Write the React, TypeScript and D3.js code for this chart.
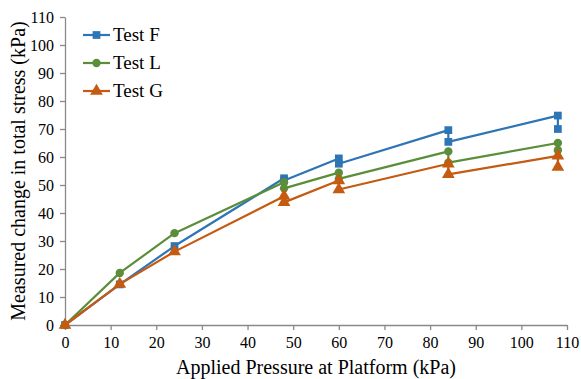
import React from "react";
import * as d3 from "d3";

// applied pressure (kPa) – repeated x means two readings at that load
const pressure = [0, 12, 24, 48, 48, 60, 60, 84, 84, 108, 108];
const testF = [0, 14.5, 28.2, 52.4, 51.6, 59.5, 57.6, 69.6, 65.4, 74.8, 70.0];
const testL = [0, 18.6, 32.8, 51.0, 48.8, 54.4, 52.2, 62.0, 58.0, 65.0, 62.4];
const testG = [0, 14.6, 26.2, 46.0, 43.8, 51.6, 48.4, 57.6, 53.8, 60.4, 56.4];

const xTicks = [0, 10, 20, 30, 40, 50, 60, 70, 80, 90, 100, 110];
const yTicks = [0, 10, 20, 30, 40, 50, 60, 70, 80, 90, 100, 110];

const series = [
    { name: "Test F", values: testF, color: "#2E75B6", shape: "square" },
    { name: "Test L", values: testL, color: "#5B8E3A", shape: "circle" },
    { name: "Test G", values: testG, color: "#C55A11", shape: "triangle" },
];

const font = "'Liberation Serif', 'Times New Roman', serif";

export default function App() {
    const ref = React.useRef<SVGSVGElement>(null);

    React.useEffect(() => {
        const width = 581;
        const height = 379;
        const margin = { top: 17, right: 14, bottom: 54, left: 65 };

        const svg = d3.select(ref.current);
        svg.selectAll("*").remove();

        const x = d3
            .scaleLinear()
            .domain([0, 110])
            .range([margin.left, width - margin.right]);
        const y = d3
            .scaleLinear()
            .domain([0, 110])
            .range([height - margin.bottom, margin.top]);

        const axisColor = "#898989";

        // x axis
        const xAxis = svg
            .append("g")
            .attr("transform", `translate(0,${y(0)})`)
            .call(d3.axisBottom(x).tickValues(xTicks).tickSizeInner(5).tickSizeOuter(0).tickPadding(7));
        xAxis.select(".domain").attr("stroke", axisColor).attr("stroke-width", 1.3);
        xAxis.selectAll(".tick line").attr("stroke", axisColor).attr("stroke-width", 1.3);
        xAxis
            .selectAll(".tick text")
            .attr("font-family", font)
            .attr("font-size", 16)
            .attr("fill", "#000");

        // y axis
        const yAxis = svg
            .append("g")
            .attr("transform", `translate(${x(0)},0)`)
            .call(d3.axisLeft(y).tickValues(yTicks).tickSizeInner(5).tickSizeOuter(0).tickPadding(6));
        yAxis.select(".domain").attr("stroke", axisColor).attr("stroke-width", 1.3);
        yAxis.selectAll(".tick line").attr("stroke", axisColor).attr("stroke-width", 1.3);
        yAxis
            .selectAll(".tick text")
            .attr("font-family", font)
            .attr("font-size", 16)
            .attr("fill", "#000");

        // titles
        svg.append("text")
            .attr("x", (x(0) + x(110)) / 2)
            .attr("y", 374)
            .attr("text-anchor", "middle")
            .attr("font-family", font)
            .attr("font-size", 20)
            .text("Applied Pressure at Platform (kPa)");

        svg.append("text")
            .attr("transform", `translate(25,${(y(0) + y(110)) / 2}) rotate(-90)`)
            .attr("text-anchor", "middle")
            .attr("font-family", font)
            .attr("font-size", 20)
            .text("Measured change in total stress (kPa)");

        const symbolFor = (shape: string) =>
            shape === "square"
                ? d3.symbol().type(d3.symbolSquare).size(60)
                : shape === "circle"
                ? d3.symbol().type(d3.symbolCircle).size(55)
                : d3.symbol().type(d3.symbolTriangle).size(70);

        const line = d3
            .line<number>()
            .x((d, i) => x(pressure[i]))
            .y((d) => y(d));

        series.forEach((s) => {
            const g = svg.append("g");
            g.append("path")
                .datum(s.values)
                .attr("fill", "none")
                .attr("stroke", s.color)
                .attr("stroke-width", 2.2)
                .attr("stroke-linejoin", "round")
                .attr("d", line);
            g.selectAll("path.pt")
                .data(s.values)
                .join("path")
                .attr("class", "pt")
                .attr("d", symbolFor(s.shape))
                .attr("fill", s.color)
                .attr("transform", (d, i) => `translate(${x(pressure[i])},${y(d)})`);
        });

        // legend
        const legend = svg.append("g").attr("transform", "translate(83,35)");
        series.forEach((s, i) => {
            const row = legend.append("g").attr("transform", `translate(0,${i * 28})`);
            row.append("line")
                .attr("x1", 0)
                .attr("x2", 27)
                .attr("stroke", s.color)
                .attr("stroke-width", 2.2);
            row.append("path")
                .attr("d", symbolFor(s.shape))
                .attr("fill", s.color)
                .attr("transform", "translate(13.5,0)");
            row.append("text")
                .attr("x", 30)
                .attr("y", 6)
                .attr("font-family", font)
                .attr("font-size", 19)
                .text(s.name);
        });
    }, []);

    return (
        <svg
            ref={ref}
            width={581}
            height={379}
            style={{ position: "absolute", left: 0, top: 0, background: "#fff" }}
        />
    );
}
